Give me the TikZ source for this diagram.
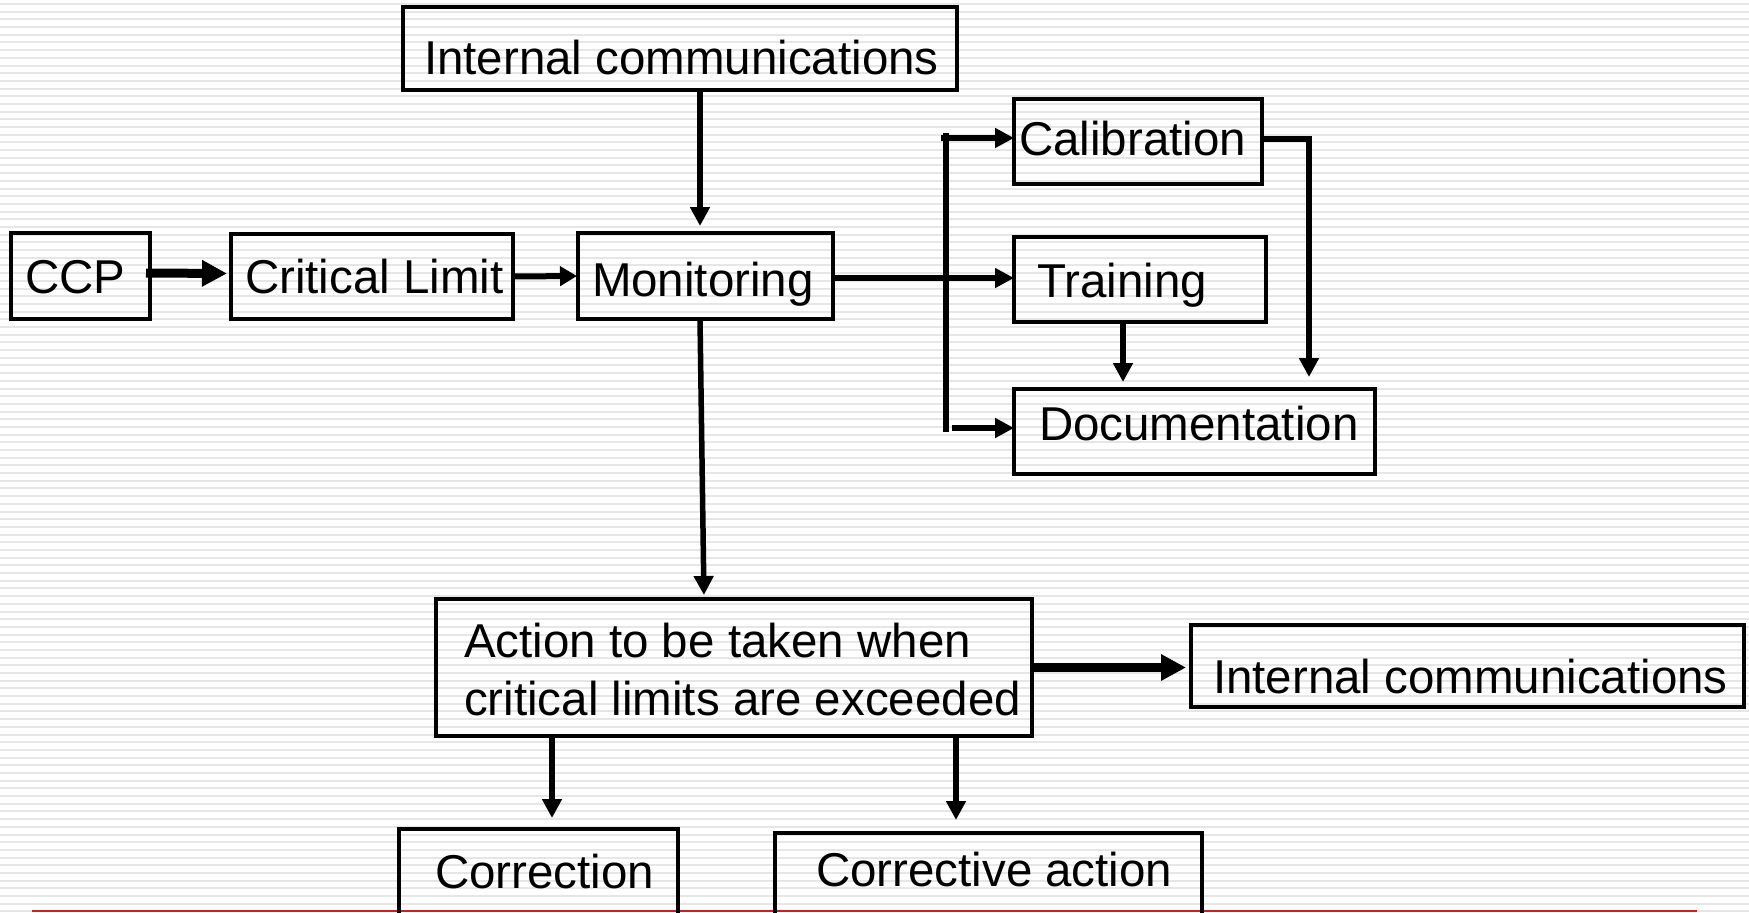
\documentclass[tikz,border=0pt]{standalone}
\usepackage{fontspec}
\setmainfont{Liberation Sans}
\usetikzlibrary{arrows.meta}
\definecolor{stripecol}{RGB}{230,230,230}
\definecolor{redline}{RGB}{204,32,32}
\begin{document}
\begin{tikzpicture}[x=1pt,y=-1pt,
  box/.style={draw=black, line width=3.3pt, rectangle, inner sep=0pt, outer sep=0pt, anchor=north west},
  lbl/.style={inner sep=0pt, outer sep=0pt, anchor=base west, font=\fontsize{47.5}{58}\selectfont},
  arr/.style={line width=5.5pt, -{Triangle[length=19pt,width=19pt]}},
  midarr/.style={line width=6pt, -{Triangle[length=17pt,width=19pt]}},
  thickarr/.style={line width=9pt, -{Triangle[length=25pt,width=25pt]}},
  busline/.style={line width=5.5pt},
  stripeline/.style={draw=stripecol, line width=2pt}]
\useasboundingbox (0,0) rectangle (1749,913);
\begin{scope}
\clip (0,0) rectangle (1749,913);
\fill[white] (0,0) rectangle (1749,913);
\foreach \i in {0,...,118} \draw[stripeline] (0,4+7.69*\i) -- (1749,4+7.69*\i);
\coordinate (rl1) at (32,911);
\coordinate (rl2) at (1697,911);
\draw[redline, line width=2pt] (rl1) -- (rl2);

% boxes
\node[box, minimum width=554pt, minimum height=83pt] (ic) at (403,7) {};
\node[box, minimum width=139pt, minimum height=86pt] (ccp) at (11,233) {};
\node[box, minimum width=282pt, minimum height=85pt] (cl) at (231,234) {};
\node[box, minimum width=255pt, minimum height=86pt] (mon) at (578,233) {};
\node[box, minimum width=248pt, minimum height=85pt] (cal) at (1014,99) {};
\node[box, minimum width=252pt, minimum height=85pt] (trn) at (1014,237) {};
\node[box, minimum width=361pt, minimum height=85pt] (doc) at (1014,389) {};
\node[box, minimum width=596pt, minimum height=137pt] (act) at (436,599) {};
\node[box, minimum width=553pt, minimum height=82pt] (ic2) at (1191,625) {};
\node[box, minimum width=279pt, minimum height=120pt] (cor) at (399,829) {};
\node[box, minimum width=427pt, minimum height=120pt] (cora) at (775,833) {};

% texts
\node[lbl] (icT) at (424,74) {Internal communications};
\node[lbl] (ccpT) at (25,293) {CCP};
\node[lbl] (clT) at (245,293) {Critical Limit};
\node[lbl] (monT) at (592,296) {Monitoring};
\node[lbl] (calT) at (1019,155) {Calibration};
\node[lbl] (trnT) at (1037,297) {Training};
\node[lbl] (docT) at (1039,440) {Documentation};
\node[lbl] (actT1) at (464,657) {Action to be taken when};
\node[lbl] (actT2) at (464,715) {critical limits are exceeded};
\node[lbl] (ic2T) at (1213,693) {Internal communications};
\node[lbl] (corT) at (435,888) {Correction};
\node[lbl] (coraT) at (816,886) {Corrective action};

% helper coordinates
\coordinate (mx) at (700,0);
\coordinate (ax) at (704,0);
\coordinate (cx) at (552,0);
\coordinate (dx) at (956,0);
\coordinate (busT) at (946,133);
\coordinate (busB) at (946,432);
\coordinate (calIn) at (941,138);
\coordinate (docIn) at (952,428);
\coordinate (calOut) at (1309,139);

% connectors
\draw[arr, shorten >=7pt] (mx |- ic.south) -- (mx |- mon.north);
\draw[thickarr, shorten >=4pt] ([xshift=-4pt,yshift=3pt]ccp.east) -- ([yshift=3pt]cl.west);
\draw[midarr, shorten >=1pt] (cl.east) -- (mon.west);
\draw[arr] ([yshift=-2pt]mon.east) -- ([yshift=-2pt]mon.east -| trn.west);
\draw[busline] (busT) -- (busB);
\draw[arr] (calIn) -- (calIn -| cal.west);
\draw[arr] (docIn) -- (docIn -| doc.west);
\draw[arr, shorten >=12pt] (cal.east |- calOut) -- (calOut) -- (calOut |- doc.north);
\draw[arr, shorten >=7pt] ([xshift=-17pt]trn.south) -- ([xshift=-17pt]trn.south |- doc.north);
\draw[arr, shorten >=4pt] (mx |- mon.south) -- (ax |- act.north);
\draw[thickarr, shorten >=5pt] (act.east) -- (act.east -| ic2.west);
\draw[arr, shorten >=11pt] (cx |- act.south) -- (cx |- cor.north);
\draw[arr, shorten >=13pt] (dx |- act.south) -- (dx |- cora.north);
\end{scope}
\end{tikzpicture}
\end{document}
